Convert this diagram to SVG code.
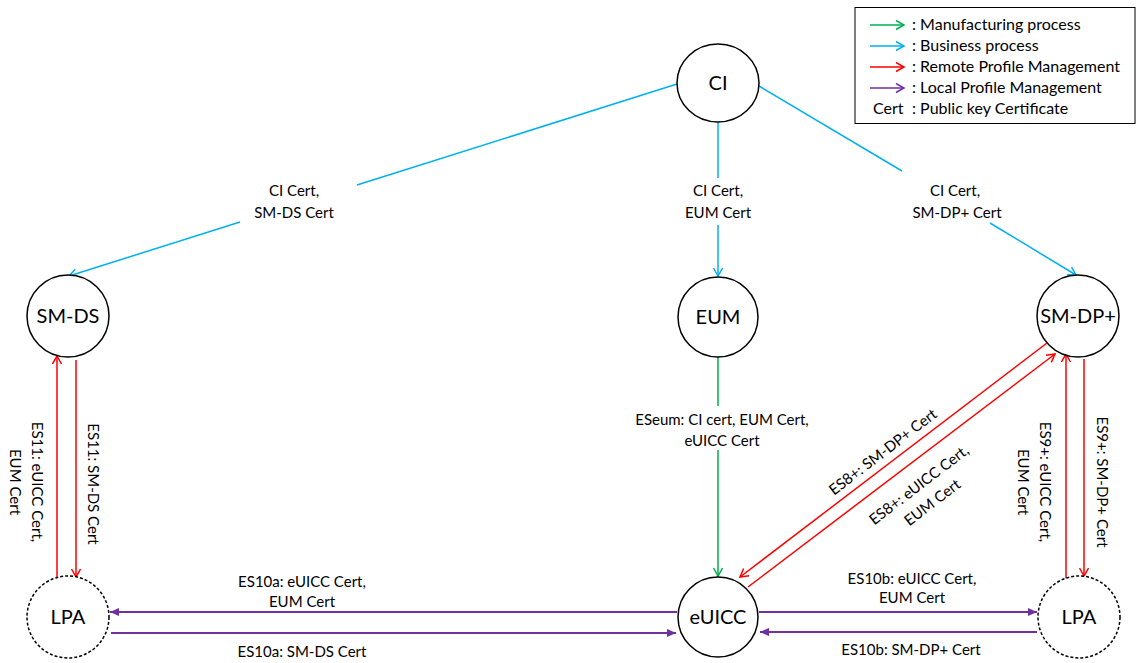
<svg xmlns="http://www.w3.org/2000/svg" width="1137" height="663" viewBox="0 0 1137 663">
<style>
text{font-family:Lato,"Liberation Sans",sans-serif;fill:#000}
.lbl{font-size:15px;text-anchor:middle}
.nd{font-size:20px;text-anchor:middle}
.lg{font-size:16px}
.node{fill:#fff;stroke:#000;stroke-width:1.5}
.dash{stroke-dasharray:3 2}
.g{stroke:#00B050;stroke-width:1.5;fill:none}
.b{stroke:#00B0F0;stroke-width:1.5;fill:none}
.r{stroke:#FF0000;stroke-width:1.5;fill:none}
.p{stroke:#7030A0;stroke-width:2;fill:none}
</style>
<defs>
<marker id="ag" markerUnits="userSpaceOnUse" markerWidth="12" markerHeight="12" refX="9" refY="5" orient="auto"><path d="M1,0.5 L9,5 L1,9.5" fill="none" stroke="#00B050" stroke-width="1.5"/></marker>
<marker id="ab" markerUnits="userSpaceOnUse" markerWidth="12" markerHeight="12" refX="9" refY="5" orient="auto"><path d="M1,0.5 L9,5 L1,9.5" fill="none" stroke="#00B0F0" stroke-width="1.5"/></marker>
<marker id="ar" markerUnits="userSpaceOnUse" markerWidth="12" markerHeight="12" refX="9" refY="5" orient="auto"><path d="M1,0.5 L9,5 L1,9.5" fill="none" stroke="#FF0000" stroke-width="1.5"/></marker>
<marker id="apo" markerUnits="userSpaceOnUse" markerWidth="12" markerHeight="12" refX="9" refY="5" orient="auto"><path d="M1,0.5 L9,5 L1,9.5" fill="none" stroke="#7030A0" stroke-width="1.5"/></marker>
<marker id="ap" markerUnits="userSpaceOnUse" markerWidth="12" markerHeight="12" refX="9" refY="4" orient="auto"><path d="M0,0 L9,4 L0,8 Z" fill="#7030A0"/></marker>
</defs>
<rect width="1137" height="663" fill="#fff"/>

<g id="legend">
<rect x="855" y="7.5" width="280" height="116" fill="#fff" stroke="#000" stroke-width="1"/>
<line x1="870" y1="25" x2="904" y2="25" class="g" marker-end="url(#ag)"/>
<text class="lg" x="912" y="30">: Manufacturing process</text>
<line x1="870" y1="46" x2="904" y2="46" class="b" marker-end="url(#ab)"/>
<text class="lg" x="912" y="51">: Business process</text>
<line x1="870" y1="67" x2="904" y2="67" class="r" marker-end="url(#ar)"/>
<text class="lg" x="912" y="72">: Remote Profile Management</text>
<line x1="870" y1="88" x2="904" y2="88" stroke="#7030A0" stroke-width="1.5" fill="none" marker-end="url(#apo)"/>
<text class="lg" x="912" y="93">: Local Profile Management</text>
<text class="lg" x="873" y="114">Cert</text>
<text class="lg" x="912" y="114">: Public key Certificate</text>
</g>

<g id="connectors">
<!-- CI -> SM-DS -->
<line x1="677" y1="84" x2="357" y2="185" class="b"/>
<line x1="240" y1="222" x2="69" y2="276" class="b" marker-end="url(#ab)"/>
<!-- CI -> EUM -->
<line x1="718" y1="122" x2="718" y2="178" class="b"/>
<line x1="718" y1="225" x2="718" y2="276" class="b" marker-end="url(#ab)"/>
<!-- CI -> SM-DP+ -->
<line x1="759" y1="86" x2="902" y2="171" class="b"/>
<line x1="990" y1="223" x2="1076" y2="275" class="b" marker-end="url(#ab)"/>
<!-- EUM -> eUICC -->
<line x1="718" y1="357" x2="718" y2="406" class="g"/>
<line x1="718" y1="450" x2="718" y2="576" class="g" marker-end="url(#ag)"/>
<!-- SM-DS / LPA -->
<line x1="57" y1="580" x2="57" y2="356" class="r" marker-end="url(#ar)"/>
<line x1="76" y1="360" x2="76" y2="577" class="r" marker-end="url(#ar)"/>
<!-- SM-DP+ / LPA -->
<line x1="1066" y1="579" x2="1066" y2="354" class="r" marker-end="url(#ar)"/>
<line x1="1084" y1="359" x2="1084" y2="576" class="r" marker-end="url(#ar)"/>
<!-- SM-DP+ / eUICC -->
<line x1="1047" y1="343" x2="740" y2="577" class="r" marker-end="url(#ar)"/>
<line x1="748" y1="587" x2="1055" y2="354" class="r" marker-end="url(#ar)"/>
<!-- eUICC / LPA left -->
<line x1="677" y1="612" x2="110" y2="612" class="p" marker-end="url(#ap)"/>
<line x1="111" y1="633" x2="676" y2="633" class="p" marker-end="url(#ap)"/>
<!-- eUICC / LPA right -->
<line x1="759" y1="612" x2="1037" y2="612" class="p" marker-end="url(#ap)"/>
<line x1="1037" y1="632" x2="760" y2="632" class="p" marker-end="url(#ap)"/>
</g>

<g id="labels">
<text class="lbl" x="294" y="196">CI Cert,</text>
<text class="lbl" x="294" y="218">SM-DS Cert</text>
<text class="lbl" x="718" y="196">CI Cert,</text>
<text class="lbl" x="718" y="218">EUM Cert</text>
<text class="lbl" x="955" y="196">CI Cert,</text>
<text class="lbl" x="957" y="218">SM-DP+ Cert</text>
<text class="lbl" x="722" y="425">ESeum: CI cert, EUM Cert,</text>
<text class="lbl" x="722" y="446">eUICC Cert</text>
<g transform="translate(37,482) rotate(90)">
<text class="lbl" x="0" y="5">ES11: eUICC Cert,</text>
<text class="lbl" x="0" y="27">EUM Cert</text>
</g>
<g transform="translate(93,484) rotate(90)">
<text class="lbl" x="0" y="5">ES11: SM-DS Cert</text>
</g>
<g transform="translate(1045,482) rotate(90)">
<text class="lbl" x="0" y="5">ES9+: eUICC Cert,</text>
<text class="lbl" x="0" y="27">EUM Cert</text>
</g>
<g transform="translate(1102,482) rotate(90)">
<text class="lbl" x="0" y="5">ES9+: SM-DP+ Cert</text>
</g>
<g transform="translate(883,452) rotate(-37.4)">
<text class="lbl" x="0" y="5">ES8+: SM-DP+ Cert</text>
</g>
<g transform="translate(919,485) rotate(-37.4)">
<text class="lbl" x="0" y="5">ES8+: eUICC Cert,</text>
<text class="lbl" x="0" y="27">EUM Cert</text>
</g>
<text class="lbl" x="302" y="587">ES10a: eUICC Cert,</text>
<text class="lbl" x="302" y="607">EUM Cert</text>
<text class="lbl" x="302" y="657">ES10a: SM-DS Cert</text>
<text class="lbl" x="912" y="584">ES10b: eUICC Cert,</text>
<text class="lbl" x="912" y="603">EUM Cert</text>
<text class="lbl" x="911" y="655">ES10b: SM-DP+ Cert</text>
</g>

<g id="CI"><ellipse class="node" cx="718" cy="83" rx="41" ry="39"/><text class="nd" x="718" y="90">CI</text></g>
<g id="SM-DS"><circle class="node" cx="68" cy="316" r="41"/><text class="nd" x="68" y="323">SM-DS</text></g>
<g id="EUM"><circle class="node" cx="718" cy="317" r="40"/><text class="nd" x="718" y="324">EUM</text></g>
<g id="SM-DP"><circle class="node" cx="1078" cy="316" r="41"/><text class="nd" x="1078" y="323">SM-DP+</text></g>
<g id="LPA-left"><circle class="node dash" cx="68" cy="617" r="41"/><text class="nd" x="68" y="624">LPA</text></g>
<g id="eUICC"><circle class="node" cx="718" cy="617" r="40"/><text class="nd" x="718" y="624">eUICC</text></g>
<g id="LPA-right"><circle class="node dash" cx="1079" cy="617" r="41"/><text class="nd" x="1079" y="624">LPA</text></g>
</svg>
